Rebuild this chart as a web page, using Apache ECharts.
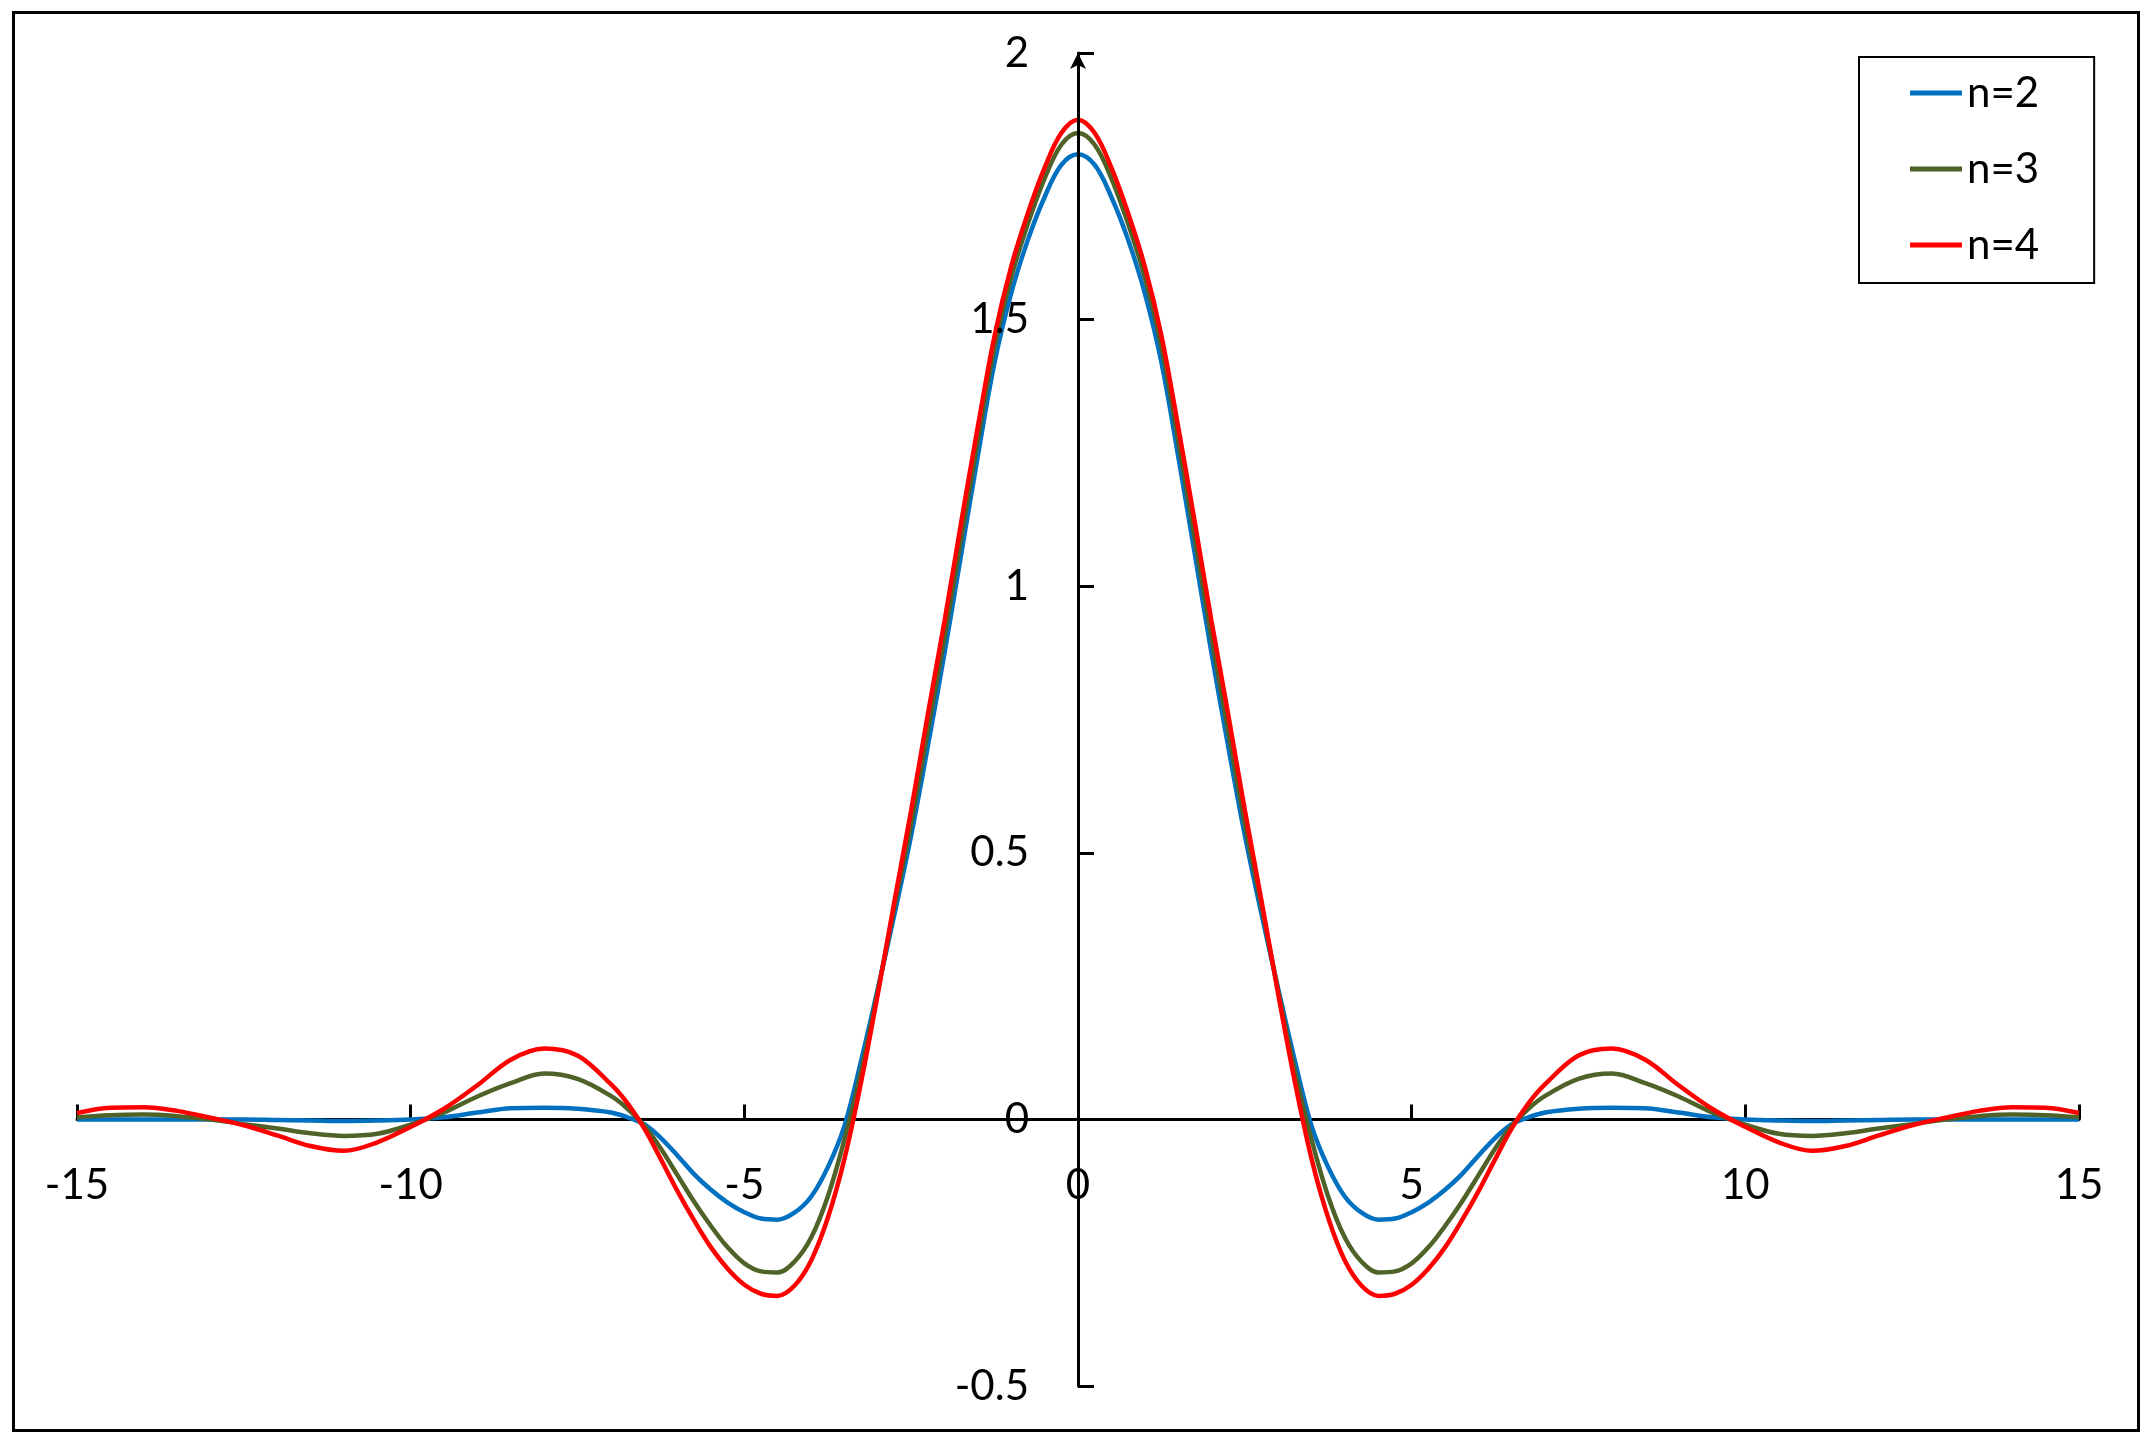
<!DOCTYPE html>
<html>
<head>
<meta charset="utf-8">
<script src="https://cdn.jsdelivr.net/npm/echarts@6/dist/echarts.min.js"></script>
<style>html,body{margin:0;padding:0;background:#fff}#c{width:2151px;height:1441px}</style>
</head>
<body>
<div id="c"></div>
<script>
const xs = [-15,-14.5,-14,-13.5,-13,-12.5,-12,-11.5,-11,-10.5,-10,-9.5,-9,-8.5,-8,-7.5,-7,-6.75,-6.5,-6.25,-6,-5.75,-5.5,-5.25,-5,-4.75,-4.5,-4.25,-4,-3.75,-3.5,-3.25,-3,-2.75,-2.5,-2.25,-2,-1.75,-1.5,-1.25,-1,-0.75,-0.5,-0.25,
  0,0.25,0.5,0.75,1,1.25,1.5,1.75,2,2.25,2.5,2.75,3,3.25,3.5,3.75,4,4.25,4.5,4.75,5,5.25,5.5,5.75,6,6.25,6.5,6.75,7,7.5,8,8.5,9,9.5,10,10.5,11,11.5,12,12.5,13,13.5,14,14.5,15];

const n2 = [0,0,0,0,0,0,-0.001,-0.002,-0.003,-0.002,0.0,0.004,0.013,0.021,0.022,0.02,0.013,0.004,-0.009,-0.035,-0.068,-0.103,-0.132,-0.156,-0.174,-0.186,-0.188,-0.175,-0.145,-0.09,-0.012,0.11,0.245,0.385,0.533,0.70,0.875,1.06,1.245,1.42,1.55,1.65,1.73,1.79,
  1.81,1.79,1.73,1.65,1.55,1.42,1.245,1.06,0.875,0.70,0.533,0.385,0.245,0.11,-0.012,-0.09,-0.145,-0.175,-0.188,-0.186,-0.174,-0.156,-0.132,-0.103,-0.068,-0.035,-0.009,0.004,0.013,0.02,0.022,0.021,0.013,0.004,0.0,-0.002,-0.003,-0.002,-0.001,0,0,0,0,0,0];

const n3 = [0.004,0.008,0.009,0.006,0,-0.009,-0.017,-0.026,-0.031,-0.027,-0.01,0.013,0.043,0.068,0.086,0.076,0.044,0.02,-0.012,-0.055,-0.105,-0.155,-0.20,-0.24,-0.27,-0.285,-0.287,-0.267,-0.222,-0.145,-0.038,0.09,0.24,0.40,0.555,0.73,0.905,1.09,1.275,1.45,1.58,1.68,1.765,1.828,
  1.85,1.828,1.765,1.68,1.58,1.45,1.275,1.09,0.905,0.73,0.555,0.40,0.24,0.09,-0.038,-0.145,-0.222,-0.267,-0.287,-0.285,-0.27,-0.24,-0.20,-0.155,-0.105,-0.055,-0.012,0.02,0.044,0.076,0.086,0.068,0.043,0.013,-0.01,-0.027,-0.031,-0.026,-0.017,-0.009,0,0.006,0.009,0.008,0.004];

const n4 = [0.012,0.022,0.023,0.016,0.003,-0.011,-0.03,-0.05,-0.059,-0.043,-0.014,0.02,0.064,0.112,0.133,0.12,0.066,0.03,-0.017,-0.075,-0.135,-0.19,-0.24,-0.28,-0.31,-0.327,-0.331,-0.312,-0.265,-0.185,-0.074,0.07,0.235,0.41,0.58,0.76,0.935,1.12,1.30,1.47,1.60,1.70,1.785,1.85,
  1.875,1.85,1.785,1.70,1.60,1.47,1.30,1.12,0.935,0.76,0.58,0.41,0.235,0.07,-0.074,-0.185,-0.265,-0.312,-0.331,-0.327,-0.31,-0.28,-0.24,-0.19,-0.135,-0.075,-0.017,0.03,0.066,0.12,0.133,0.112,0.064,0.02,-0.014,-0.043,-0.059,-0.05,-0.03,-0.011,0.003,0.016,0.023,0.022,0.012];

const seriesNames = ['n=2','n=3','n=4'];
const seriesColors = ['#0070C0','#4F6228','#FF0000'];
const seriesValues = [n2, n3, n4];

const X_MIN = -15, X_MAX = 15, Y_MIN = -0.5, Y_MAX = 2;
const W = 2151, H = 1441;
const G = {left: 77, right: 72, top: 53, bottom: 55};
const gw = W - G.left - G.right, gh = H - G.top - G.bottom;
const xAxisOffset = -gh * (0 - Y_MIN) / (Y_MAX - Y_MIN);
const yAxisOffset = -gw * (0 - X_MIN) / (X_MAX - X_MIN);

const FONT = 'Lato, "Open Sans", sans-serif';
const chart = echarts.init(document.getElementById('c'), null, {renderer:'canvas'});

const option = {
  animation: false,
  backgroundColor: '#fff',
  grid: Object.assign({containLabel: false, outerBoundsMode: 'none'}, G),
  legend: {
    orient: 'vertical',
    left: 1859, top: 57,
    padding: [15, 55, 17, 51],
    itemGap: 34,
    itemWidth: 52, itemHeight: 5,
    icon: 'rect',
    borderColor: '#000', borderWidth: 2,
    textStyle: {fontFamily: FONT, fontSize: 42, color: '#000'},
    data: seriesNames
  },
  xAxis: {
    type: 'value', min: X_MIN, max: X_MAX, interval: 5,
    position: 'bottom', offset: xAxisOffset,
    axisLine: {onZero: false, lineStyle: {color: '#000', width: 3}},
    axisTick: {inside: true, length: 15, lineStyle: {color: '#000', width: 3}},
    axisLabel: {fontFamily: FONT, fontSize: 42, color: '#000', margin: 45},
    splitLine: {show: false}
  },
  yAxis: {
    type: 'value', min: Y_MIN, max: Y_MAX, interval: 0.5, z: 5,
    position: 'left', offset: yAxisOffset,
    axisLine: {onZero: false, lineStyle: {color: '#000', width: 3}, symbol: ['none','arrow'], symbolSize: [12, 16]},
    axisTick: {inside: true, length: 16, lineStyle: {color: '#000', width: 3}},
    axisLabel: {fontFamily: FONT, fontSize: 42, color: '#000', margin: 49},
    splitLine: {show: false}
  },
  series: seriesNames.map((name, i) => ({
    name: name,
    type: 'line',
    data: xs.map((x, j) => [x, seriesValues[i][j]]),
    showSymbol: false,
    symbol: 'none',
    smooth: 0.35,
    lineStyle: {color: seriesColors[i], width: 4.5},
    itemStyle: {color: seriesColors[i]},
    z: 2
  })),
  graphic: [{
    type: 'rect',
    shape: {x: 13.5, y: 12.5, width: 2125, height: 1418},
    style: {fill: 'none', stroke: '#000', lineWidth: 3},
    silent: true, z: 100
  }]
};
chart.setOption(option);
</script>
</body>
</html>
